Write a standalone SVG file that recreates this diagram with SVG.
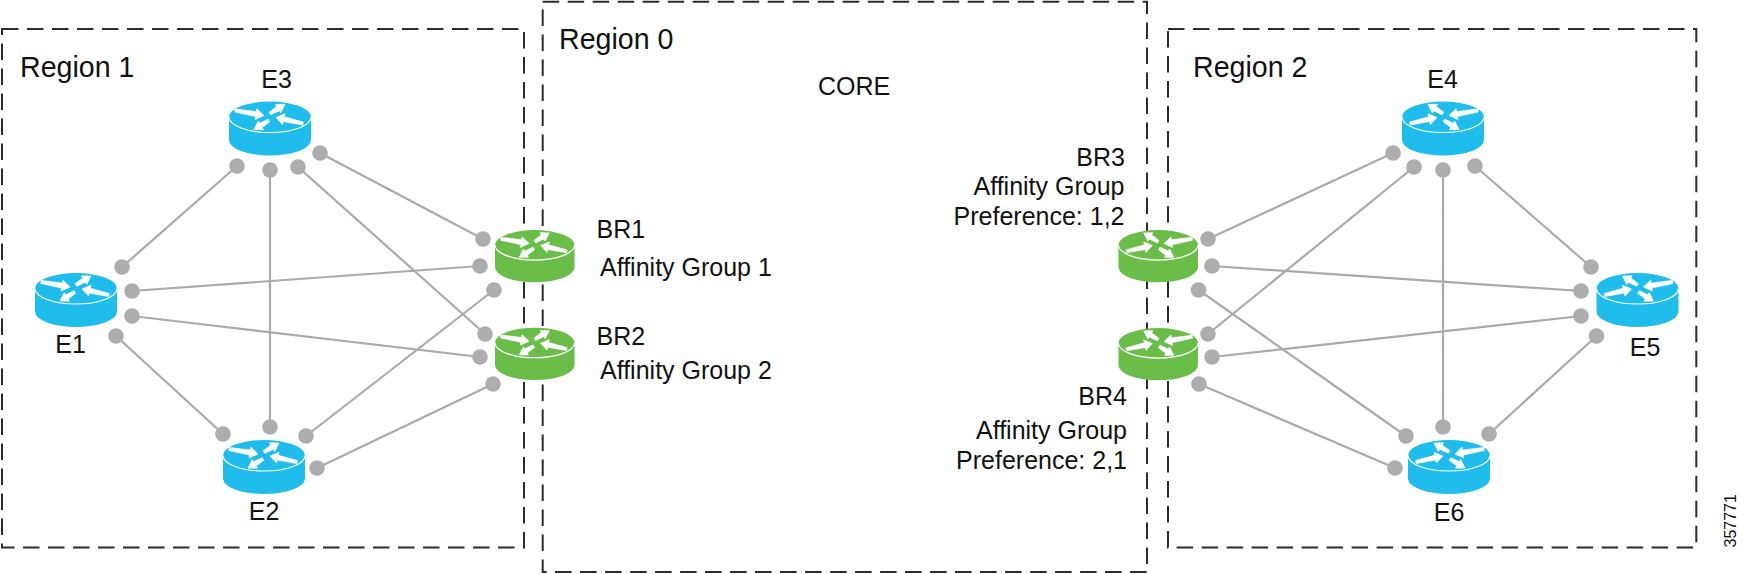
<svg xmlns="http://www.w3.org/2000/svg" width="1744" height="574" viewBox="0 0 1744 574">
<style>
text{font-family:"Liberation Sans",Arial,sans-serif;font-size:25px;fill:#111}
.rg{font-size:28.6px}
.m{text-anchor:middle}
.e{text-anchor:end}
.box{fill:none;stroke:#2b2b2b;stroke-width:2;stroke-dasharray:16.5 8.5}
.ln{stroke:#aaaaac;stroke-width:2.2;fill:none}
.dot{fill:#adadb0}
.blue{fill:#1fbcec}
.green{fill:#6bbd4a}
.rim{fill:none;stroke:#fff;stroke-width:1.2}
.arr{fill:#fff;stroke:#fff;stroke-width:.7}
</style>
<defs>
<g id="router">
<path d="M0,15.5A41,15.5 0 0 1 82,15.5V38.5A41,15.5 0 0 1 0,38.5Z"/>
<path class="rim" d="M0,15.5A41,15.5 0 0 0 82,15.5"/>
<polygon class="arr" points="6.3,7.5 27.4,10.1 27.9,7.2 35,14 26.1,18 26.6,15.1 5.7,10.5"/>
<polygon class="arr" points="40.2,10.7 47.8,5 46.5,2.8 56,3 51.7,11.4 50.4,9.2 41.8,13.3"/>
<polygon class="arr" points="74.3,20.5 55.3,15.3 56,12.3 47,16 53.6,23 54.3,20.1 73.7,23.5"/>
<polygon class="arr" points="39.2,17.7 30.6,21.8 29.3,19.6 25,28 34.5,28.2 33.2,26 40.8,20.3"/>
</g>
</defs>
<g id="regions">
<rect id="region-1" class="box" x="2" y="29" width="522" height="518.5"/>
<rect id="region-0" class="box" x="542.7" y="1.7" width="604.3" height="570.3"/>
<rect id="region-2" class="box" x="1168" y="29" width="528.3" height="518.5"/>
<text class="rg" x="20" y="77">Region 1</text>
<text class="rg" x="559" y="48.5">Region 0</text>
<text class="rg" x="1193" y="77">Region 2</text>
<text x="818" y="94.5">CORE</text>
</g>
<g id="connectors">
<path class="ln" d="M320,153L483,239M132,291L480,266M298,167L485,334M306,436L494,290M132,316L480,357M317,468L493,384M237,166L122,267M270,170L270,427M116,336L223,434"/>
<path class="ln" d="M1208,239L1393,153M1208,334L1414,167M1443,170L1443,427M1475,166L1591,267M1212,266L1581,291M1212,357L1581,316M1198.5,290L1406,436M1199,384L1395,468M1596.5,336L1489,434"/>
<g class="dot">
<circle cx="237" cy="166" r="7.8"/><circle cx="270" cy="170" r="7.8"/><circle cx="298" cy="167" r="7.8"/><circle cx="320" cy="153" r="7.8"/>
<circle cx="122" cy="267" r="7.8"/><circle cx="132" cy="291" r="7.8"/><circle cx="132" cy="316" r="7.8"/><circle cx="116" cy="336" r="7.8"/>
<circle cx="223" cy="434" r="7.8"/><circle cx="270" cy="427" r="7.8"/><circle cx="306" cy="436" r="7.8"/><circle cx="317" cy="468" r="7.8"/>
<circle cx="483" cy="239" r="7.8"/><circle cx="480" cy="266" r="7.8"/><circle cx="494" cy="290" r="7.8"/><circle cx="485" cy="334" r="7.8"/><circle cx="480" cy="357" r="7.8"/><circle cx="493" cy="384" r="7.8"/>
<circle cx="1208" cy="239" r="7.8"/><circle cx="1212" cy="266" r="7.8"/><circle cx="1198.5" cy="290" r="7.8"/><circle cx="1208" cy="334" r="7.8"/><circle cx="1212" cy="357" r="7.8"/><circle cx="1199" cy="384" r="7.8"/>
<circle cx="1393" cy="153" r="7.8"/><circle cx="1414" cy="167" r="7.8"/><circle cx="1443" cy="170" r="7.8"/><circle cx="1475" cy="166" r="7.8"/>
<circle cx="1591" cy="267" r="7.8"/><circle cx="1581" cy="291" r="7.8"/><circle cx="1581" cy="316" r="7.8"/><circle cx="1596.5" cy="336" r="7.8"/>
<circle cx="1395" cy="468" r="7.8"/><circle cx="1406" cy="436" r="7.8"/><circle cx="1443" cy="427" r="7.8"/><circle cx="1489" cy="434" r="7.8"/>
</g>
</g>
<g id="E3"><use href="#router" class="blue" transform="translate(229,101.5)"/><text class="m" x="276.5" y="88">E3</text></g>
<g id="E1"><use href="#router" class="blue" transform="translate(35,273)"/><text class="m" x="70.5" y="352.5">E1</text></g>
<g id="E2"><use href="#router" class="blue" transform="translate(223,440)"/><text class="m" x="264" y="520">E2</text></g>
<g id="E4"><use href="#router" class="blue" transform="translate(1484,101.5) scale(-1,1)"/><text class="m" x="1442.5" y="88">E4</text></g>
<g id="E5"><use href="#router" class="blue" transform="translate(1678.5,273) scale(-1,1)"/><text class="m" x="1645" y="356">E5</text></g>
<g id="E6"><use href="#router" class="blue" transform="translate(1490,440) scale(-1,1)"/><text class="m" x="1449" y="520.5">E6</text></g>
<g id="BR1"><use href="#router" class="green" transform="translate(495,230) scale(.97)"/><text x="596.5" y="237.5">BR1</text><text x="600" y="276">Affinity Group 1</text></g>
<g id="BR2"><use href="#router" class="green" transform="translate(495,327.7) scale(.97)"/><text x="596.5" y="344.5">BR2</text><text x="600" y="378.5">Affinity Group 2</text></g>
<g id="BR3"><use href="#router" class="green" transform="translate(1198,230) scale(-.97,.97)"/><text class="e" x="1125" y="166">BR3</text><text class="e" x="1124.5" y="195">Affinity Group</text><text class="e" x="1124.5" y="225">Preference: 1,2</text></g>
<g id="BR4"><use href="#router" class="green" transform="translate(1198,328) scale(-.97,.97)"/><text class="e" x="1127" y="405">BR4</text><text class="e" x="1127" y="438.5">Affinity Group</text><text class="e" x="1127" y="468.5">Preference: 2,1</text></g>
<text transform="translate(1736,547.5) rotate(-90)" style="font-size:16px">357771</text>
</svg>
